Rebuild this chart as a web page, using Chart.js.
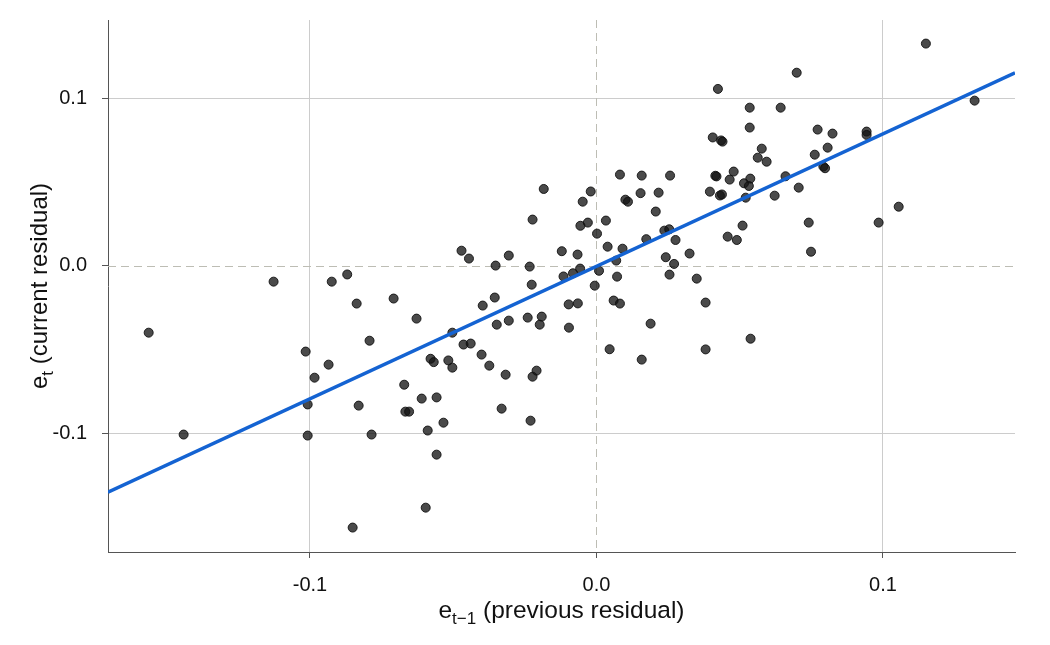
<!DOCTYPE html>
<html>
<head>
<meta charset="utf-8">
<script src="https://cdn.jsdelivr.net/npm/chart.js@4.4.1/dist/chart.umd.min.js"></script>
<style>
  html, body { margin: 0; padding: 0; background: #fff; }
  #wrap { width: 1050px; height: 645px; }
</style>
</head>
<body>
<div id="wrap"><canvas id="residChart" width="1050" height="645"></canvas></div>
<script>
// residual at t-1 (x) and residual at t (y)
const prevResid = [
  -0.1563, -0.1441, -0.1127, -0.1015, -0.1008, -0.1008, -0.0984, -0.0935, -0.0924, -0.0870,
  -0.0851, -0.0837, -0.0830, -0.0792, -0.0785, -0.0708, -0.0671, -0.0667, -0.0654, -0.0628,
  -0.0610, -0.0596, -0.0589, -0.0579, -0.0568, -0.0558, -0.0558, -0.0534, -0.0517, -0.0503,
  -0.0503, -0.0471, -0.0464, -0.0445, -0.0439, -0.0401, -0.0397, -0.0374, -0.0355, -0.0352,
  -0.0348, -0.0331, -0.0317, -0.0306, -0.0306, -0.0240, -0.0233, -0.0230, -0.0226, -0.0223,
  -0.0223, -0.0209, -0.0198, -0.0191, -0.0184, -0.0121, -0.0115, -0.0097, -0.0096, -0.0082,
  -0.0066, -0.0065, -0.0057, -0.0056, -0.0048, -0.0030, -0.0020, -0.0006, 0.0002, 0.0009,
  0.0033, 0.0039, 0.0046, 0.0060, 0.0069, 0.0072, 0.0082, 0.0082, 0.0091, 0.0101,
  0.0110, 0.0154, 0.0158, 0.0158, 0.0174, 0.0189, 0.0207, 0.0217, 0.0237, 0.0242,
  0.0254, 0.0255, 0.0257, 0.0271, 0.0276, 0.0325, 0.0350, 0.0381, 0.0381, 0.0396,
  0.0406, 0.0415, 0.0419, 0.0424, 0.0431, 0.0438, 0.0435, 0.0440, 0.0458, 0.0465,
  0.0479, 0.0490, 0.0510, 0.0515, 0.0521, 0.0532, 0.0535, 0.0535, 0.0537, 0.0538,
  0.0563, 0.0577, 0.0594, 0.0622, 0.0643, 0.0660, 0.0699, 0.0706, 0.0741, 0.0749,
  0.0762, 0.0772, 0.0792, 0.0798, 0.0807, 0.0824, 0.0943, 0.0943, 0.0985, 0.1055,
  0.1150, 0.1320
];
const currResid = [
  -0.0399, -0.1008, -0.0094, -0.0512, -0.0828, -0.1014, -0.0668, -0.0590, -0.0094, -0.0051,
  -0.1564, -0.0225, -0.0835, -0.0447, -0.1008, -0.0195, -0.0710, -0.0871, -0.0871, -0.0315,
  -0.0793, -0.1445, -0.0984, -0.0555, -0.0575, -0.0786, -0.1128, -0.0937, -0.0565, -0.0608,
  -0.0399, 0.0091, -0.0470, 0.0044, -0.0464, -0.0530, -0.0237, -0.0596, -0.0189, 0.0002,
  -0.0351, -0.0853, -0.0650, 0.0062, -0.0327, -0.0309, -0.0004, -0.0925, -0.0112, 0.0277,
  -0.0662, -0.0626, -0.0351, -0.0303, 0.0460, 0.0088, -0.0063, -0.0230, -0.0369, -0.0044,
  0.0068, -0.0224, -0.0016, 0.0240, 0.0384, 0.0259, 0.0445, -0.0118, 0.0193, -0.0029,
  0.0271, 0.0115, -0.0498, -0.0207, 0.0032, -0.0064, 0.0546, -0.0225, 0.0103, 0.0396,
  0.0384, 0.0435, 0.0540, -0.0560, 0.0160, -0.0345, 0.0325, 0.0438, 0.0211, 0.0052,
  0.0219, -0.0052, 0.0540, 0.0012, 0.0155, 0.0074, -0.0076, -0.0219, -0.0499, 0.0444,
  0.0768, 0.0539, 0.0535, 0.1058, 0.0421, 0.0427, 0.0750, 0.0743, 0.0175, 0.0516,
  0.0564, 0.0155, 0.0241, 0.0494, 0.0408, 0.0478, 0.0946, 0.0827, 0.0522, -0.0435,
  0.0647, 0.0701, 0.0623, 0.0420, 0.0946, 0.0536, 0.1155, 0.0468, 0.0259, 0.0085,
  0.0665, 0.0815, 0.0594, 0.0584, 0.0707, 0.0791, 0.0803, 0.0783, 0.0259, 0.0354,
  0.1329, 0.0988
];
// fitted line, read at the two edges of the panel
const fitX = [-0.1705, 0.1461];
const fitY = [-0.1353, 0.1154];
const tickVals = [-0.1, 0, 0.1];
// [base, subscript, rest]
const xTitle = ["e", "t\u22121", " (previous residual)"];
const yTitle = ["e", "t", " (current residual)"];

const FONT = "'Liberation Sans', Arial, sans-serif";

const points = prevResid.map((v, i) => ({ x: v, y: currResid[i] }));
const fitLine = fitX.map((v, i) => ({ x: v, y: fitY[i] }));

function fmt(v) {
  if (Math.abs(v) < 1e-9) v = 0;
  return v.toFixed(1);
}

function gridCol(c) {
  return Math.abs(c.tick.value) < 1e-9 ? "rgba(0,0,0,0)" : "#cccccc";
}

// dashed zero lines
const zeroLines = {
  id: "zeroLines",
  beforeDatasetsDraw(chart) {
    const { ctx, chartArea: a, scales } = chart;
    const px = Math.round(scales.x.getPixelForValue(0)) + 0.5;
    const py = Math.round(scales.y.getPixelForValue(0)) + 0.5;
    ctx.save();
    ctx.strokeStyle = "#bdbdb4";
    ctx.lineWidth = 1;
    ctx.setLineDash([8, 5]);
    ctx.beginPath();
    ctx.moveTo(px, a.top);
    ctx.lineTo(px, a.bottom);
    ctx.moveTo(a.left, py);
    ctx.lineTo(a.right, py);
    ctx.stroke();
    ctx.restore();
  }
};

function drawSubTitle(ctx, parts, size) {
  const big = size + "px " + FONT;
  const small = Math.round(size * 0.7) + "px " + FONT;
  ctx.font = big;
  const w0 = ctx.measureText(parts[0]).width;
  const w2 = ctx.measureText(parts[2]).width;
  ctx.font = small;
  const w1 = ctx.measureText(parts[1]).width;
  let cx = -(w0 + w1 + w2) / 2;
  ctx.textAlign = "left";
  ctx.textBaseline = "alphabetic";
  ctx.fillStyle = "#111";
  ctx.font = big;
  ctx.fillText(parts[0], cx, 0);
  cx += w0;
  ctx.font = small;
  ctx.fillText(parts[1], cx, size * 0.26);
  cx += w1;
  ctx.font = big;
  ctx.fillText(parts[2], cx, 0);
}

// axis titles with subscripts
const axisTitles = {
  id: "axisTitles",
  afterDraw(chart) {
    const { ctx, chartArea: a } = chart;
    ctx.save();
    ctx.translate((a.left + a.right) / 2, 618);
    drawSubTitle(ctx, xTitle, 24.5);
    ctx.restore();

    ctx.save();
    ctx.translate(47, (a.top + a.bottom) / 2);
    ctx.rotate(-Math.PI / 2);
    drawSubTitle(ctx, yTitle, 24);
    ctx.restore();
  }
};

new Chart(document.getElementById("residChart"), {
  type: "scatter",
  data: {
    datasets: [
      {
        label: "fit",
        type: "line",
        data: fitLine,
        borderColor: "#1463d2",
        borderWidth: 3.5,
        pointRadius: 0,
        fill: false,
        order: 0
      },
      {
        label: "residuals",
        data: points,
        backgroundColor: "rgba(20,20,20,0.77)",
        borderColor: "rgba(15,15,15,0.9)",
        borderWidth: 1,
        pointRadius: 4.5,
        order: 1
      }
    ]
  },
  options: {
    responsive: false,
    animation: false,
    devicePixelRatio: 1,
    layout: { padding: { top: 20, right: 35, left: 0, bottom: 0 } },
    plugins: {
      legend: { display: false },
      tooltip: { enabled: false }
    },
    scales: {
      x: {
        type: "linear",
        min: -0.1705,
        max: 0.1461,
        afterBuildTicks: s => { s.ticks = tickVals.map(v => ({ value: v })); },
        afterFit: s => { s.height = 93; s.paddingLeft = 0; s.paddingRight = 0; },
        ticks: {
          callback: fmt,
          color: "#111",
          padding: 15,
          maxRotation: 0,
          font: { family: FONT, size: 20 }
        },
        grid: { color: gridCol, tickColor: "#555", tickLength: 6, lineWidth: 1 },
        border: { color: "#555", width: 1 }
      },
      y: {
        type: "linear",
        min: -0.1710,
        max: 0.1470,
        afterBuildTicks: s => { s.ticks = tickVals.map(v => ({ value: v })); },
        afterFit: s => { s.width = 108; s.paddingTop = 0; s.paddingBottom = 0; },
        ticks: {
          callback: fmt,
          color: "#111",
          padding: 15,
          font: { family: FONT, size: 20 }
        },
        grid: { color: gridCol, tickColor: "#555", tickLength: 6, lineWidth: 1 },
        border: { color: "#555", width: 1 }
      }
    }
  },
  plugins: [zeroLines, axisTitles]
});
</script>
</body>
</html>
